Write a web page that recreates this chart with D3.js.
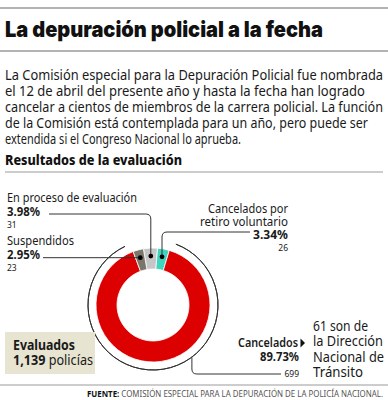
<!DOCTYPE html>
<html>
<head>
<meta charset="utf-8">
<script src="https://cdn.jsdelivr.net/npm/d3@7"></script>
<style>
  body { margin: 0; background: #fff; }
  svg { display: block; font-family: "Noto Sans", sans-serif; }
</style>
</head>
<body>
<div id="graph"></div>
<script>
// datos
const categories = ["En proceso de evaluación", "Cancelados por retiro voluntario", "Cancelados", "Suspendidos"];
const percents = [3.98, 3.34, 89.73, 2.95];
const counts = [31, 26, 699, 23];
const colors = ["#c6c6c6", "#3ed4be", "#dc0000", "#7b766a"];
const evaluados = "1,139";

const title = "La depuración policial a la fecha";
const intro = [
  ["La Comisión especial para la Depuración Policial fue nombrada", 378],
  ["el 12 de abril del presente año y hasta la fecha han logrado", 360],
  ["cancelar a cientos de miembros de la carrera policial. La función", 378],
  ["de la Comisión está contemplada para un año, pero puede ser", 363],
  ["extendida si el Congreso Nacional lo aprueba.", 236]
];
const nota = [["61 son de", 55], ["la Dirección", 70], ["Nacional de", 71], ["Tránsito", 50]];

const svgWidth = 388, svgHeight = 400;
const cx = 153, cy = 305;

const svg = d3.select('#graph')
  .append('svg')
  .attr('width', svgWidth)
  .attr('height', svgHeight);

// lineas del encabezado
svg.append('line').attr('x1', 0).attr('x2', svgWidth).attr('y1', 8).attr('y2', 8)
  .attr('stroke', '#9a9a9a').attr('stroke-width', 1.5);
svg.append('line').attr('x1', 0).attr('x2', svgWidth).attr('y1', 51).attr('y2', 51)
  .attr('stroke', '#9a9a9a').attr('stroke-width', 1.5);

svg.append('text')
  .attr('x', 5).attr('y', 37)
  .attr('font-family', 'Inter, sans-serif')
  .attr('font-weight', 900)
  .attr('font-size', 22)
  .attr('textLength', 318)
  .attr('lengthAdjust', 'spacingAndGlyphs')
  .attr('fill', '#111')
  .text(title);

svg.selectAll('.intro')
  .data(intro)
  .enter()
  .append('text')
  .attr('class', 'intro')
  .attr('x', 5)
  .attr('y', (d, i) => 80 + i * 16)
  .attr('font-size', 15)
  .attr('textLength', d => d[1])
  .attr('lengthAdjust', 'spacingAndGlyphs')
  .attr('fill', '#1a1a1a')
  .text(d => d[0]);

svg.append('text')
  .attr('x', 5).attr('y', 165)
  .attr('font-weight', 800)
  .attr('font-size', 14.5)
  .attr('textLength', 177)
  .attr('lengthAdjust', 'spacingAndGlyphs')
  .attr('fill', '#111')
  .text('Resultados de la evaluación');

svg.append('line').attr('x1', 5).attr('x2', 383).attr('y1', 172).attr('y2', 172)
  .attr('stroke', '#9a9a9a').attr('stroke-width', 1);

// dona
const data = categories.map((c, i) => ({ name: c, pct: percents[i], n: counts[i], color: colors[i] }));
const start = -0.17;
const pie = d3.pie().sort(null).value(d => d.pct).startAngle(start).endAngle(start + 2 * Math.PI);
const arcs = pie(data);
const arc = d3.arc().innerRadius(36).outerRadius(57);
const dotArc = d3.arc().innerRadius(49).outerRadius(49);

const donut = svg.append('g').attr('transform', `translate(${cx},${cy})`);
donut.selectAll('.slice')
  .data(arcs)
  .enter()
  .append('path')
  .attr('class', 'slice')
  .attr('d', arc)
  .attr('fill', d => d.data.color)
  .attr('stroke', '#fff')
  .attr('stroke-width', 0.8);

// arco exterior de cancelados
const red = arcs[2];
const outer = d3.arc().innerRadius(65).outerRadius(65)
  .startAngle(red.startAngle + 0.07).endAngle(red.endAngle - 0.09);
donut.append('path').attr('d', outer()).attr('fill', 'none')
  .attr('stroke', '#333').attr('stroke-width', 1);

const pos = arcs.map(a => {
  const c = dotArc.centroid(a);
  return [cx + c[0], cy + c[1]];
});

function leader(p) {
  svg.append('path').attr('d', p).attr('fill', 'none')
    .attr('stroke', '#333').attr('stroke-width', 1);
}
// en proceso
const p0 = pos[0];
leader(`M49,214H${p0[0] - 5}Q${p0[0]},214 ${p0[0]},219V${p0[1]}`);
// suspendidos
const p3 = pos[3];
leader(`M43,${p3[1]}H${p3[0]}`);
// retiro voluntario
const p1 = pos[1];
leader(`M${p1[0]},${p1[1]}V237Q${p1[0]},232 ${p1[0] + 5},232H250`);
// cancelados
const ra = 2.5;
const rx = cx + 65 * Math.sin(ra), ry = cy - 65 * Math.cos(ra);
leader(`M${rx},${ry}V369Q${rx},374 ${rx + 5},374H281`);

svg.selectAll('.dot')
  .data([0, 1, 3])
  .enter()
  .append('circle')
  .attr('class', 'dot')
  .attr('cx', i => pos[i][0])
  .attr('cy', i => pos[i][1])
  .attr('r', 2.4)
  .attr('fill', '#000');

// etiquetas
function label(x, y, txt, size, weight, anchor, w) {
  const t = svg.append('text').attr('x', x).attr('y', y)
    .attr('font-size', size).attr('font-weight', weight || 'normal')
    .attr('text-anchor', anchor || 'start').attr('fill', '#1a1a1a')
    .text(txt);
  if (w) t.attr('textLength', w).attr('lengthAdjust', 'spacingAndGlyphs');
  return t;
}
const fmt = d => d.toFixed(2) + '%';

label(7, 202, data[0].name, 12.5, 'normal', 'start', 130);
label(7, 215.5, fmt(data[0].pct), 12, 'bold', 'start', 33);
label(7, 228, data[0].n, 8.5);

label(7, 245, data[3].name, 12.5, 'normal', 'start', 67);
label(7, 258.5, fmt(data[3].pct), 12, 'bold', 'start', 33);
label(7, 271, data[3].n, 8.5);

label(288, 213, 'Cancelados por', 12.5, 'normal', 'end', 80);
label(288, 226, 'retiro voluntario', 12.5, 'normal', 'end', 88);
label(288, 238.5, fmt(data[1].pct), 12, 'bold', 'end', 35);
label(288, 250.5, data[1].n, 8.5, 'normal', 'end');

label(298, 347, data[2].name, 12, 600, 'end', 60);
label(299, 361, fmt(data[2].pct), 12, 'bold', 'end', 39);
label(299, 377, data[2].n, 8.5, 'normal', 'end');
svg.append('path').attr('d', 'M300.5,338.5L305,343L300.5,347.5Z').attr('fill', '#111');

svg.selectAll('.nota')
  .data(nota)
  .enter()
  .append('text')
  .attr('class', 'nota')
  .attr('x', 313)
  .attr('y', (d, i) => 331 + i * 15.3)
  .attr('font-size', 14.5)
  .attr('textLength', d => d[1])
  .attr('lengthAdjust', 'spacingAndGlyphs')
  .attr('fill', '#1a1a1a')
  .text(d => d[0]);

// caja evaluados
svg.append('rect').attr('x', 5).attr('y', 332).attr('width', 90).attr('height', 42)
  .attr('fill', '#e7e4d1');
label(13, 350, 'Evaluados', 13.5, 'bold', 'start', 62);
const ev = label(13, 365, '', 13.5, 'normal', 'start', 80);
ev.append('tspan').attr('font-weight', 'bold').text(evaluados);
ev.append('tspan').text(' policías');

// pie de fuente
svg.append('line').attr('x1', 0).attr('x2', svgWidth).attr('y1', 385).attr('y2', 385)
  .attr('stroke', '#9a9a9a').attr('stroke-width', 1);
const src = svg.append('text').attr('x', 383).attr('y', 397)
  .attr('text-anchor', 'end').attr('font-size', 8.5)
  .attr('textLength', 296).attr('lengthAdjust', 'spacingAndGlyphs');
src.append('tspan').attr('font-weight', 'bold').attr('fill', '#111').text('FUENTE:');
src.append('tspan').attr('fill', '#555').text(' COMISIÓN ESPECIAL PARA LA DEPURACIÓN DE LA POLICÍA NACIONAL.');
</script>
</body>
</html>
